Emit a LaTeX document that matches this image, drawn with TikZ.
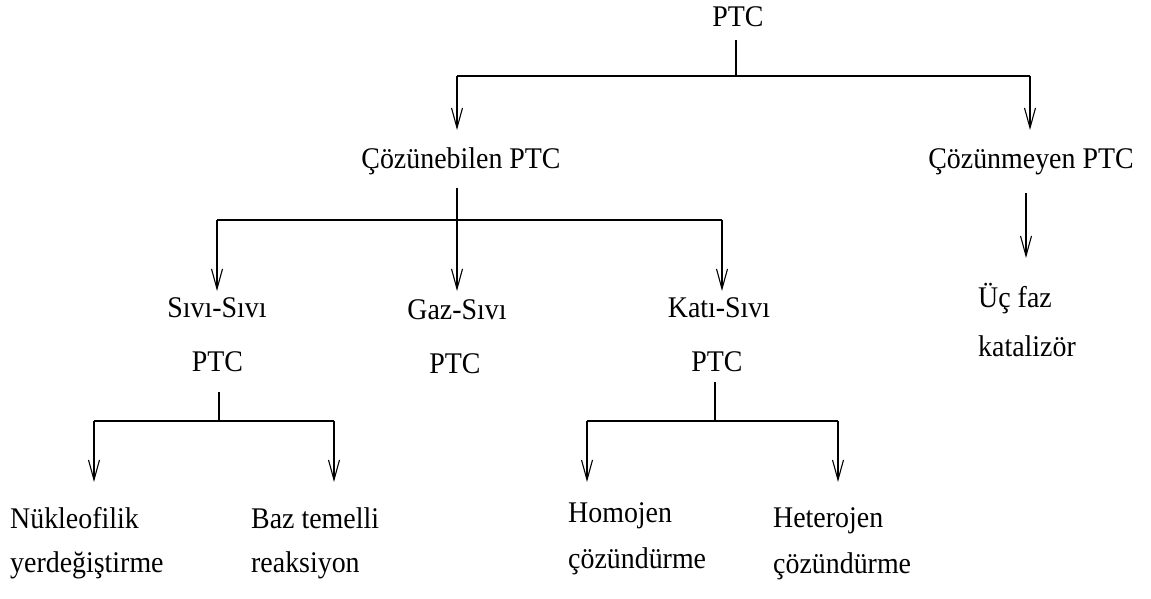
\documentclass[tikz,border=0pt]{standalone}
\usepackage{fontspec}
\setmainfont[FakeStretch=0.93]{Liberation Serif}
\usetikzlibrary{arrows.meta}
\begin{document}
\begin{tikzpicture}[x=1pt,y=-1pt,
  every node/.style={inner sep=0pt, font=\fontsize{30}{36}\selectfont},
  lbl/.style={anchor=base},
  lblw/.style={anchor=base west},
  ln/.style={line width=1.2pt},
  arr/.style={ln, -{Straight Barb[length=20pt,width=11pt,line width=1.1pt]}}]
\useasboundingbox (0,0) rectangle (1151,599);
% text nodes
\node[lbl] (ptc) at (738,27) {PTC};
\node[lbl] (coz) at (461,168) {Çözünebilen PTC};
\node[lbl] (cozm) at (1031,168) {Çözünmeyen PTC};
\node[lbl] (ssA) at (217,317) {Sıvı-Sıvı};
\node[lbl] (ssB) at (217.5,371) {PTC};
\node[lbl] (gsA) at (457,319) {Gaz-Sıvı};
\node[lbl] (gsB) at (455,373) {PTC};
\node[lbl] (ksA) at (719,317) {Katı-Sıvı};
\node[lbl] (ksB) at (717,371) {PTC};
\node[lblw] (ucA) at (978,307) {Üç faz};
\node[lblw] (ucB) at (978,356) {katalizör};
\node[lblw] (nkA) at (10,528) {Nükleofilik};
\node[lblw] (nkB) at (10,572) {yerdeğiştirme};
\node[lblw] (bzA) at (251,528) {Baz temelli};
\node[lblw] (bzB) at (251,572) {reaksiyon};
\node[lblw] (hoA) at (568,522) {Homojen};
\node[lblw] (hoB) at (568,568) {çözündürme};
\node[lblw] (heA) at (773,527) {Heterojen};
\node[lblw] (heB) at (773,573) {çözündürme};
% level 1
\coordinate (j0) at (736,40);
\coordinate (b0) at (736,76);
\coordinate (b0L) at (457,76);
\coordinate (b0R) at (1030,76);
\coordinate (t0L) at (457,130);
\coordinate (t0R) at (1030,130);
\draw[ln] (j0) -- (b0);
\draw[ln] (b0L) -- (b0R);
\draw[arr] (b0L) -- (t0L);
\draw[arr] (b0R) -- (t0R);
% level 2
\coordinate (j1) at (457,188);
\coordinate (b1L) at (217,220);
\coordinate (b1R) at (722,220);
\coordinate (t1L) at (217,291);
\coordinate (t1M) at (457,291);
\coordinate (t1R) at (722,291);
\draw[ln] (b1L) -- (b1R);
\draw[arr] (j1) -- (t1M);
\draw[arr] (b1L) -- (t1L);
\draw[arr] (b1R) -- (t1R);
% right branch
\coordinate (j2) at (1026,193);
\coordinate (t2) at (1026,258);
\draw[arr] (j2) -- (t2);
% Sivi-Sivi subtree
\coordinate (j3) at (219,392);
\coordinate (b3) at (219,421);
\coordinate (b3L) at (94,421);
\coordinate (b3R) at (334,421);
\coordinate (t3L) at (94,482);
\coordinate (t3R) at (334,482);
\draw[ln] (j3) -- (b3);
\draw[ln] (b3L) -- (b3R);
\draw[arr] (b3L) -- (t3L);
\draw[arr] (b3R) -- (t3R);
% Kati-Sivi subtree
\coordinate (j4) at (715,382);
\coordinate (b4) at (715,421);
\coordinate (b4L) at (587,421);
\coordinate (b4R) at (838,421);
\coordinate (t4L) at (587,482);
\coordinate (t4R) at (838,482);
\draw[ln] (j4) -- (b4);
\draw[ln] (b4L) -- (b4R);
\draw[arr] (b4L) -- (t4L);
\draw[arr] (b4R) -- (t4R);
\end{tikzpicture}
\end{document}
